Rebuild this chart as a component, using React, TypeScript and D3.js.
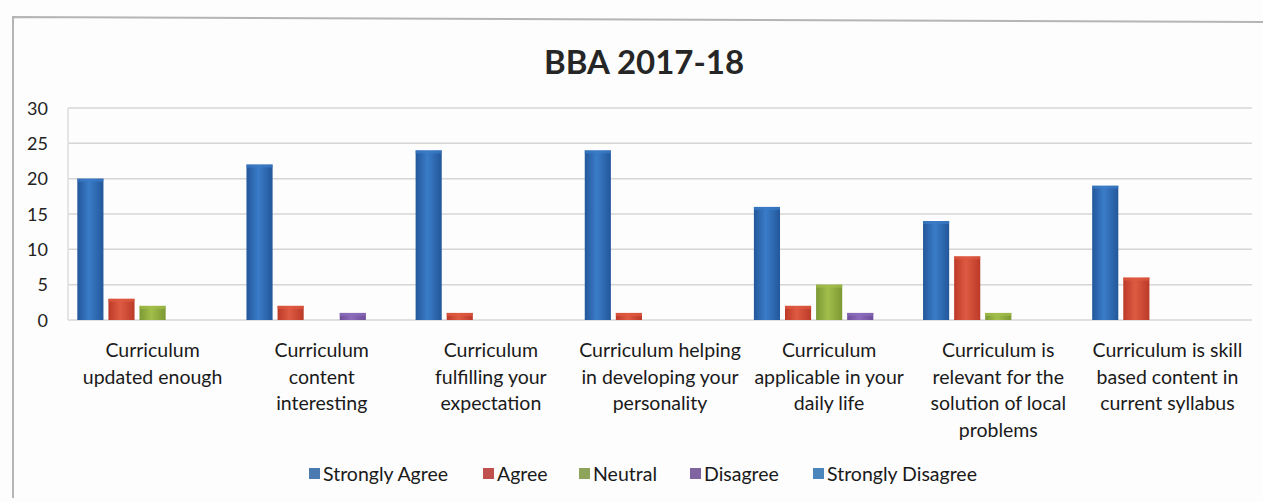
import React from "react";
import * as d3 from "d3";

const categories: string[][] = [
  ["Curriculum", "updated enough"],
  ["Curriculum", "content", "interesting"],
  ["Curriculum", "fulfilling your", "expectation"],
  ["Curriculum helping", "in developing your", "personality"],
  ["Curriculum", "applicable in your", "daily life"],
  ["Curriculum is", "relevant for the", "solution of local", "problems"],
  ["Curriculum is skill", "based content in", "current syllabus"],
];
const seriesNames = ["Strongly Agree", "Agree", "Neutral", "Disagree", "Strongly Disagree"];
const stronglyAgree = [20, 22, 24, 24, 16, 14, 19];
const agree = [3, 2, 1, 1, 2, 9, 6];
const neutral = [2, 0, 0, 0, 5, 1, 0];
const disagree = [0, 1, 0, 0, 1, 0, 0];
const stronglyDisagree = [0, 0, 0, 0, 0, 0, 0];
const yTicks = [0, 5, 10, 15, 20, 25, 30];
const title = "BBA 2017-18";

const seriesValues = [stronglyAgree, agree, neutral, disagree, stronglyDisagree];
const colors = [
  ["#23579a", "#3a7cc8", "#23579a"],
  ["#bb3a28", "#df5a42", "#bb3a28"],
  ["#7b9834", "#a2be4a", "#7b9834"],
  ["#6e4e99", "#8c6cbb", "#6e4e99"],
  ["#3b8db0", "#5bb3d3", "#3b8db0"],
];
const legendColors = ["#4a7ab0", "#c0504d", "#8ea45a", "#8064a2", "#4a86bb"];

const W = 1263;
const H = 502;
const FONT = "Lato, 'Open Sans', sans-serif";

export default function App() {
  const x0 = d3.scaleBand<number>().domain(d3.range(categories.length)).range([68, 1252]).paddingInner(0).paddingOuter(0);
  const x1 = d3
    .scaleBand<number>()
    .domain(d3.range(seriesNames.length))
    .range([0, x0.bandwidth()])
    .paddingOuter(0.22)
    .paddingInner(0);
  const y = d3.scaleLinear().domain([0, 30]).range([320, 108]);
  const slot = x1.bandwidth();
  const bw = slot * 0.84;

  const legendX = [309, 483, 579, 690, 813];

  return (
    <svg width={W} height={H} style={{ position: "absolute", left: 0, top: 0, background: "#fdfdfd" }}>
      <defs>
        {colors.map((c, i) => (
          <linearGradient key={i} id={`g${i}`} x1="0" x2="1" y1="0" y2="0">
            <stop offset="0" stopColor={c[0]} />
            <stop offset="0.45" stopColor={c[1]} />
            <stop offset="1" stopColor={c[2]} />
          </linearGradient>
        ))}
      </defs>
      <rect x={0} y={0} width={W} height={H} fill="#fdfdfd" />
      {/* frame */}
      <path d="M13,498 L13,17 L1263,22" fill="none" stroke="#b5b5b5" strokeWidth={2} />
      <text x={644} y={74} textAnchor="middle" fontFamily={FONT} fontWeight={700} fontSize={33} fill="#262626">
        {title}
      </text>
      {/* gridlines */}
      {yTicks.map((t) => (
        <g key={t}>
          <line x1={68} x2={1252} y1={y(t)} y2={y(t)} stroke="#d6d6d6" strokeWidth={1.5} />
          <text x={48} y={y(t) + 6.5} textAnchor="end" fontFamily={FONT} fontSize={18} fill="#222">
            {t}
          </text>
        </g>
      ))}
      <line x1={68} x2={68} y1={y(30)} y2={y(0)} stroke="#dcdcdc" strokeWidth={1.5} />
      {/* bars */}
      {categories.map((_, ci) => (
        <g key={ci} transform={`translate(${x0(ci)},0)`}>
          {seriesValues.map((vals, si) => {
            const v = vals[ci];
            if (v <= 0) return null;
            const bx = (x1(si) as number) + (slot - bw) / 2;
            return (
              <g key={si}>
                <rect x={bx} y={y(v)} width={bw} height={y(0) - y(v)} fill={`url(#g${si})`} />
                <rect x={bx} y={y(v)} width={bw} height={3} fill={colors[si][1]} opacity={0.7} />
              </g>
            );
          })}
        </g>
      ))}
      {/* category labels */}
      {categories.map((lines, ci) => (
        <text
          key={ci}
          x={(x0(ci) as number) + x0.bandwidth() / 2}
          y={357}
          textAnchor="middle"
          fontFamily={FONT}
          fontSize={19.5}
          fill="#1a1a1a"
        >
          {lines.map((l, li) => (
            <tspan key={li} x={(x0(ci) as number) + x0.bandwidth() / 2} dy={li === 0 ? 0 : 26.5}>
              {l}
            </tspan>
          ))}
        </text>
      ))}
      {/* legend */}
      {seriesNames.map((name, i) => (
        <g key={name} transform={`translate(${legendX[i]},474)`}>
          <rect x={0} y={-6} width={11} height={11} fill={legendColors[i]} />
          <text x={14} y={7} fontFamily={FONT} fontSize={19.5} fill="#1a1a1a">
            {name}
          </text>
        </g>
      ))}
    </svg>
  );
}
